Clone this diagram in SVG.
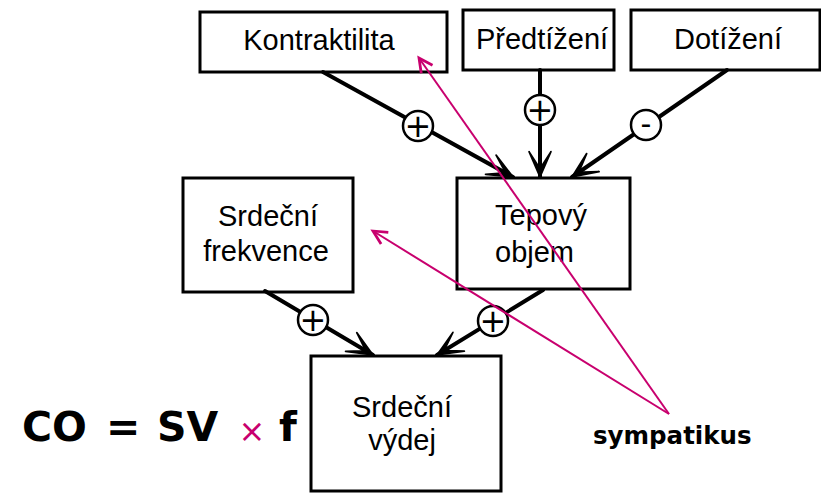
<svg xmlns="http://www.w3.org/2000/svg" width="821" height="494" viewBox="0 0 821 494">
<defs>
<style>
.box{fill:#fff;stroke:#000;stroke-width:3}
.lbl{font-family:"Liberation Sans",Arial,sans-serif;font-size:29px;fill:#000;text-anchor:middle}
.con{stroke:#000;stroke-width:4;fill:none;stroke-linecap:round}
.sgn{fill:#fff;stroke:#000;stroke-width:2.5}
.sym{font-family:"DejaVu Sans",sans-serif;font-size:32px;fill:#000;text-anchor:middle}
.pink{stroke:#c8006e;stroke-width:2;fill:none}
.big{font-family:"DejaVu Sans",Verdana,sans-serif;font-weight:bold;font-size:41px;fill:#000}
</style>
<marker id="ah" markerUnits="userSpaceOnUse" markerWidth="30" markerHeight="30" viewBox="-24 -12 26 24" refX="0" refY="0" orient="auto">
<path d="M0,0 L-22,-9.5 L-10,-1.8 L-10,1.8 L-22,9.5 Z" fill="#000" stroke="#000" stroke-width="1.5" stroke-linejoin="round"/>
</marker>
<marker id="pa" markerUnits="userSpaceOnUse" markerWidth="20" markerHeight="20" viewBox="-12 -8 14 16" refX="0" refY="0" orient="auto">
<path d="M-11,-5.5 L0,0 L-11,5.5" fill="none" stroke="#c8006e" stroke-width="2.2"/>
</marker>
</defs>
<rect width="821" height="494" fill="#fff"/>

<g id="kontraktilita">
<rect class="box" x="200" y="12" width="247" height="60"/>
<text class="lbl" x="319" y="50">Kontraktilita</text>
</g>
<g id="predtizeni">
<rect class="box" x="463" y="10" width="151" height="60"/>
<text class="lbl" x="542" y="49">Předtížení</text>
</g>
<g id="dotizeni">
<rect class="box" x="631" y="10" width="189" height="60"/>
<text class="lbl" x="728" y="49">Dotížení</text>
</g>
<g id="srdecni-frekvence">
<rect class="box" x="183" y="178" width="170" height="114"/>
<text class="lbl" x="268" y="226">Srdeční</text>
<text class="lbl" x="266" y="261">frekvence</text>
</g>
<g id="tepovy-objem">
<rect class="box" x="457" y="178" width="173" height="111"/>
<text class="lbl" x="495" y="225" style="text-anchor:start">Tepový</text>
<text class="lbl" x="495" y="262" style="text-anchor:start">objem</text>
</g>
<g id="srdecni-vydej">
<rect class="box" x="311" y="356" width="190" height="135"/>
<text class="lbl" x="402" y="417">Srdeční</text>
<text class="lbl" x="402" y="450">výdej</text>
</g>

<g id="connectors">
<line class="con" x1="323" y1="72" x2="513" y2="177" marker-end="url(#ah)"/>
<line class="con" x1="540" y1="70" x2="540" y2="177" marker-end="url(#ah)"/>
<line class="con" x1="727" y1="70" x2="572" y2="177" marker-end="url(#ah)"/>
<line class="con" x1="265" y1="291" x2="373" y2="355" marker-end="url(#ah)"/>
<line class="con" x1="543" y1="290" x2="437" y2="355" marker-end="url(#ah)"/>
<circle class="sgn" cx="418" cy="126" r="15"/>
<text class="sym" x="418" y="137">+</text>
<circle class="sgn" cx="540" cy="110" r="15"/>
<text class="sym" x="540" y="121">+</text>
<circle class="sgn" cx="646" cy="125" r="15"/>
<text class="sym" x="646" y="134" style="font-size:30px">-</text>
<circle class="sgn" cx="313" cy="320" r="15"/>
<text class="sym" x="313" y="331">+</text>
<circle class="sgn" cx="493" cy="321" r="15"/>
<text class="sym" x="493" y="332">+</text>
</g>

<g id="formula">
<text class="big" x="22" y="441">CO</text>
<text class="big" x="106" y="441">=</text>
<text class="big" x="157" y="441">SV</text>
<text x="252" y="442" style="font-family:'DejaVu Sans',sans-serif;font-size:32px;fill:#c8006e;text-anchor:middle">×</text>
<text class="big" x="279" y="441">f</text>
</g>

<g id="sympatikus">
<text x="593" y="444" style="font-family:'DejaVu Sans',Verdana,sans-serif;font-weight:bold;font-size:24.5px;fill:#000">sympatikus</text>
<line class="pink" x1="669" y1="414" x2="419" y2="58" marker-end="url(#pa)"/>
<line class="pink" x1="669" y1="414" x2="373" y2="231" marker-end="url(#pa)"/>
</g>
</svg>
